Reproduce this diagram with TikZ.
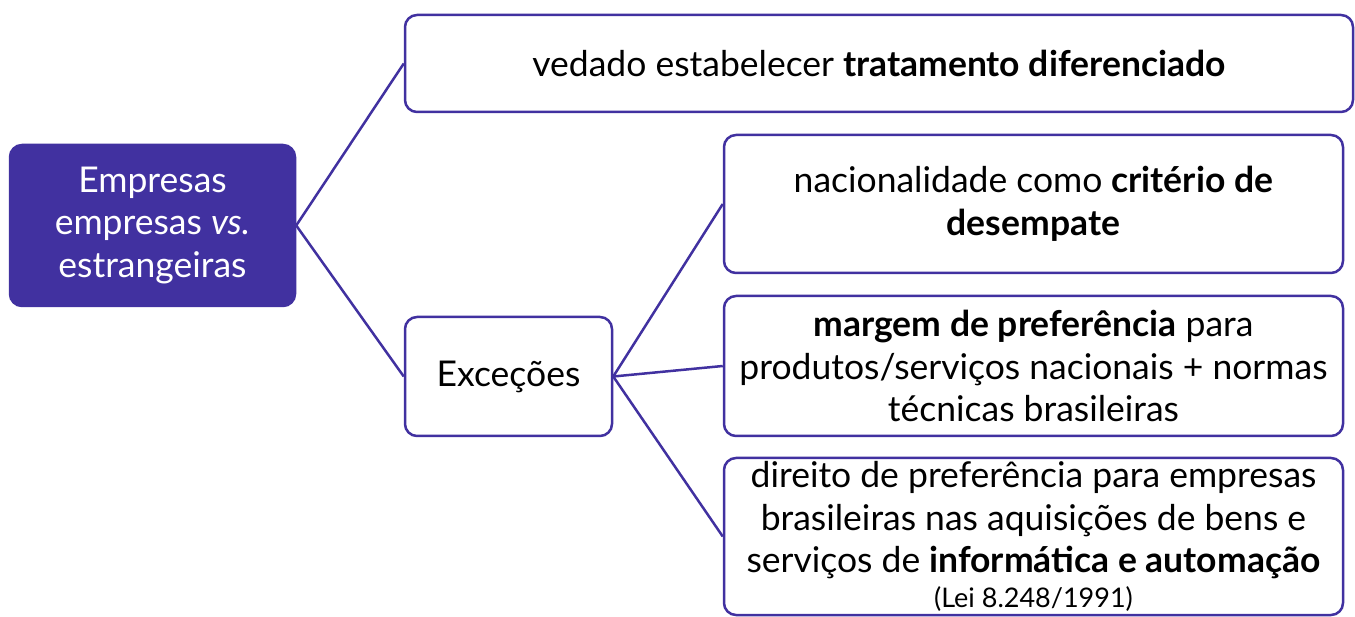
\documentclass[tikz,border=0pt]{standalone}
\usepackage{fontspec}
\setmainfont{Lato}
\usepackage{xcolor}
\usepackage{tikz}
\usetikzlibrary{positioning}

\definecolor{roxo}{RGB}{65,49,160}

\tikzset{
  caixa/.style={draw=roxo, line width=2.5pt, rounded corners=12pt, align=center, inner sep=0pt},
  raiz/.style={caixa, fill=roxo, text=white},
  ramo/.style={draw=roxo, line width=2.5pt},
}

\begin{document}
\begin{tikzpicture}[x=1pt, y=1pt, font=\fontsize{35.5}{42.5}\selectfont]
        \useasboundingbox (0,0) rectangle (1355,616);
        % Root (left)
        \node[raiz, minimum width=285, minimum height=161] (raiz) at (152.5,390.5)
          {Empresas\\empresas \textit{vs.}\\estrangeiras};
        % First level
        \node[caixa, minimum width=948, minimum height=97] (vedado) at (879,552.5)
          {vedado estabelecer \textbf{tratamento diferenciado}};
        \node[caixa, minimum width=207, minimum height=119] (excecoes) at (508.5,239.5)
          {Exceções};
        % Exceptions
        \node[caixa, minimum width=619, minimum height=138] (desempate) at (1033.5,412)
          {nacionalidade como \textbf{critério de}\\\textbf{desempate}};
        \node[caixa, minimum width=619, minimum height=140] (margem) at (1033.5,250)
          {\textbf{margem de preferência} para\\produtos/serviços nacionais + normas\\técnicas brasileiras};
        \node[caixa, minimum width=619, minimum height=157] (informatica) at (1033.5,79.5)
          {direito de preferência para empresas\\brasileiras nas aquisições de bens e\\serviços de \textbf{informática e automação}\\[-8pt]{\fontsize{27}{32}\selectfont (Lei 8.248/1991)}};
        % Connectors
        \draw[ramo] (raiz.east) -- (vedado.west);
        \draw[ramo] (raiz.east) -- (excecoes.west);
        \draw[ramo] (excecoes.east) -- (desempate.west);
        \draw[ramo] (excecoes.east) -- (margem.west);
        \draw[ramo] (excecoes.east) -- (informatica.west);
      \end{tikzpicture}
\end{document}
